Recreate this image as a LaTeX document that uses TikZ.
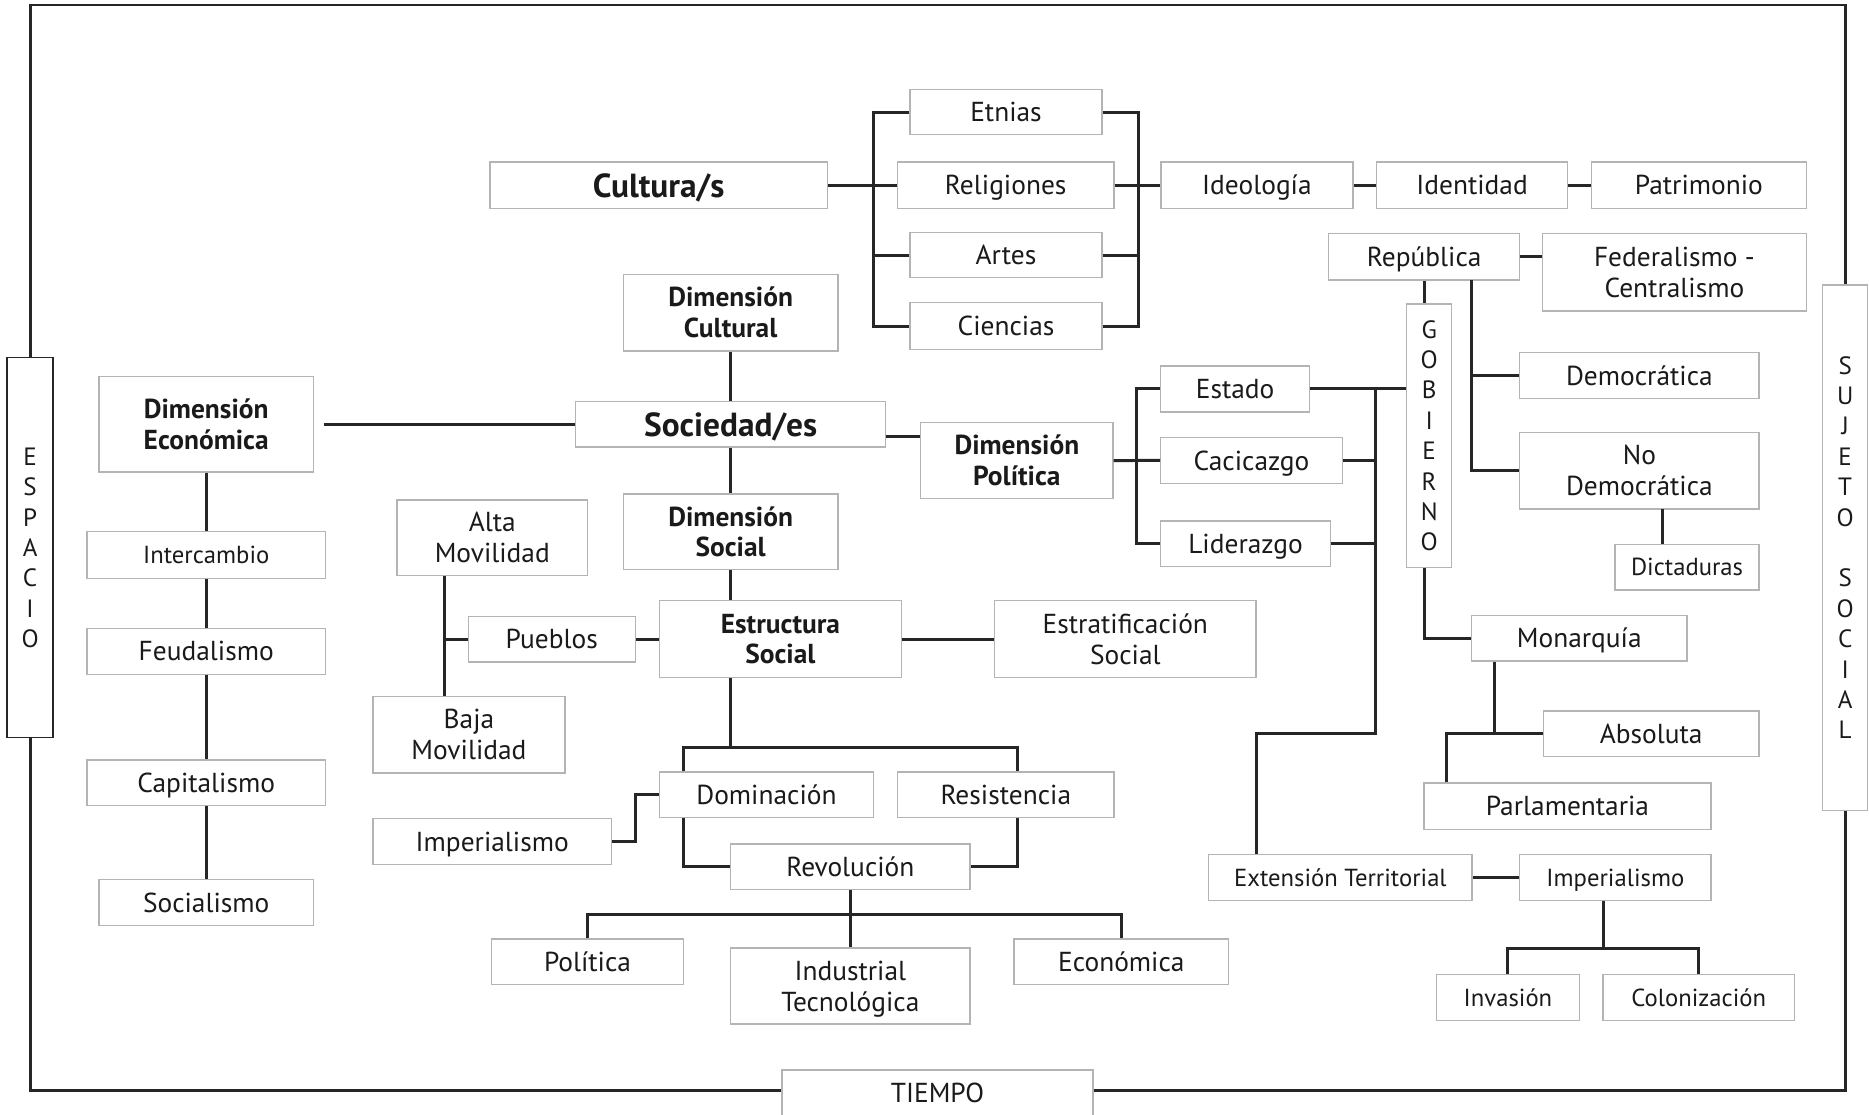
\documentclass[tikz,border=0pt]{standalone}
\usepackage{fontspec}
\setmainfont{PT Sans}
\definecolor{ln}{HTML}{262626}
\definecolor{bd}{HTML}{B4B4B4}
\definecolor{tx}{HTML}{1A1A1A}
\newcommand\ml[1]{\vbox{\halign{\hfil##\hfil\cr #1\crcr}}}
\tikzset{
 box/.style={draw=bd, line width=1.1pt, fill=white, inner sep=0pt, text=tx, font=\fontsize{23}{26}\selectfont, text height=16.1pt, text depth=0pt},
 two/.style={text height=42.1pt},
 small/.style={font=\fontsize{20.7}{25}\selectfont, text height=14.5pt},
 bld/.style={font=\fontsize{23}{25.5}\selectfont\bfseries, text height=41.6pt},
 big/.style={font=\fontsize{28}{30}\selectfont\bfseries, text height=19.6pt},
 vert/.style={font=\fontsize{21}{25.5}\selectfont},
 conn/.style={draw=ln, line width=2.5pt},
}
\newcommand\bx[7][]{\node[box,#1,minimum width={(#5)-(#3)},minimum height={(#6)-(#4)}] (#2) at ({((#3)+(#5))/2},{((#4)+(#6))/2}) {#7};}
\begin{document}
\begin{tikzpicture}[x=1pt,y=-1pt]
\fill[white] (0,0) rectangle (1568,935);
\useasboundingbox (0,0) rectangle (1568,935);
% nodes
\bx[big]{cult}{411}{136}{694}{175}{Cultura/s}
\bx{etn}{763.5}{75}{924.5}{113}{Etnias}
\bx{rel}{753}{136}{934.5}{175}{Religiones}
\bx{art}{763.5}{195}{924.5}{233}{Artes}
\bx{cie}{763.5}{254}{924.5}{293}{Ciencias}
\bx{ideo}{974}{136}{1135}{175}{Ideología}
\bx{iden}{1155}{136}{1315}{175}{Identidad}
\bx{patr}{1335}{136}{1515.5}{175}{Patrimonio}
\bx{rep}{1114.6}{196}{1275}{235}{República}
\bx[two]{fed}{1294}{196}{1515.5}{261}{\ml{Federalismo -\cr Centralismo}}
\bx[bld]{dimcul}{523}{230}{703}{294.5}{\ml{Dimensión\cr Cultural}}
\bx[bld]{dimeco}{83}{316}{263}{396}{\ml{Dimensión\cr Económica}}
\bx[big]{soc}{483}{337}{743}{375}{Sociedad/es}
\bx[bld]{dimpol}{772.5}{354.5}{933.7}{418.3}{\ml{Dimensión\cr Política}}
\bx{est}{973.8}{307}{1098.6}{345.6}{Estado}
\bx{cac}{973.8}{367}{1126}{405.5}{Cacicazgo}
\bx{lid}{973.8}{437}{1116}{475.2}{Liderazgo}
\bx[vert,text height=193.2pt]{gob}{1180}{255}{1218}{476}{\ml{G\cr O\cr B\cr I\cr E\cr R\cr N\cr O}}
\bx{dem}{1275}{296}{1475.7}{334.4}{Democrática}
\bx[two]{nodem}{1275}{363}{1475.7}{427}{\ml{No\cr Democrática}}
\bx[small]{dict}{1355}{456.7}{1475.7}{495}{Dictaduras}
\bx[vert,draw=ln,text height=167.7pt]{esp}{6}{300}{44.5}{619}{\ml{E\cr S\cr P\cr A\cr C\cr I\cr O}}
\bx[vert,text height=320.7pt]{suj}{1529}{239}{1567}{680}{\ml{S\cr U\cr J\cr E\cr T\cr O\cr \cr S\cr O\cr C\cr I\cr A\cr L}}
\bx[small]{inter}{73}{446}{273}{485.3}{Intercambio}
\bx{feud}{73}{527}{273}{565.6}{Feudalismo}
\bx{capi}{73}{637.6}{273}{676}{Capitalismo}
\bx{socia}{83}{738}{263}{776.7}{Socialismo}
\bx[bld]{dimsoc}{523}{414.5}{703}{478}{\ml{Dimensión\cr Social}}
\bx[two]{alta}{333}{419.5}{493}{483}{\ml{Alta\cr Movilidad}}
\bx{pueb}{392.8}{517}{533}{555.4}{Pueblos}
\bx[bld]{estr}{553}{504}{756.5}{568.4}{\ml{Estructura\cr Social}}
\bx[two]{estrat}{834.5}{504}{1053.7}{568.4}{\ml{Estratificación\cr Social}}
\bx[two]{baja}{312.8}{584.4}{474}{648.4}{\ml{Baja\cr Movilidad}}
\bx{dom}{553}{647.7}{733}{686}{Dominación}
\bx{res}{753}{647.7}{934.6}{686}{Resistencia}
\bx{impl}{313}{686.8}{513}{725.2}{Imperialismo}
\bx{rev}{613}{708}{813.8}{746.2}{Revolución}
\bx{pol}{412.4}{787.7}{573.4}{826.2}{Política}
\bx[two]{ind}{613}{795.3}{813.8}{859}{\ml{Industrial\cr Tecnológica}}
\bx{eco}{850.7}{787.7}{1030.7}{826.2}{Económica}
\bx{mon}{1234.4}{516.4}{1415.4}{554.6}{Monarquía}
\bx{abs}{1294.7}{596.5}{1475.7}{634.8}{Absoluta}
\bx{parl}{1194.6}{657}{1435.4}{696}{Parlamentaria}
\bx[small]{ext}{1014}{717}{1235}{755.4}{Extensión Territorial}
\bx[small]{impr}{1275}{717}{1435.4}{755.4}{Imperialismo}
\bx[small]{inv}{1205.2}{817.5}{1325}{856}{Invasión}
\bx[small]{colo}{1344.8}{817.5}{1505.5}{856}{Colonización}
\bx{tiem}{656}{897.7}{917}{936.5}{TIEMPO}
% helper coordinates
\coordinate (tl) at (25.25,4.2);
\coordinate (bl) at (25.25,914.8);
\coordinate (repb) at (1234.4,235);
\coordinate (dk) at (1394.8,427);
\coordinate (sp) at (743,366);
\coordinate (bus) at (1153.9,326.3);
\coordinate (busb) at (1153.9,615.4);
\coordinate (extk) at (1054.3,615.4);
\coordinate (ik) at (1345,796);
\coordinate (mv) at (373.3,536.2);
\coordinate (sk) at (613,626.7);
\coordinate (skl) at (573.4,626.7);
\coordinate (skr) at (854,626.7);
\coordinate (rk) at (713.4,766.8);
% connectors
\draw[conn] (cult.east) -- (rel.west);
\draw[conn] (etn.west) -- ++(-30,0) |- (cie.west);
\draw[conn] (art.west) -- ++(-30,0);
\draw[conn] (etn.east) -- ++(30.2,0) |- (cie.east);
\draw[conn] (art.east) -- ++(30.2,0);
\draw[conn] (rel.east) -- (ideo.west);
\draw[conn] (ideo.east) -- (iden.west);
\draw[conn] (iden.east) -- (patr.west);
\draw[conn] (rep.east) -- (rep.east -| fed.west);
\draw[conn] (rep.south) -- (rep.south |- gob.north);
\draw[conn] (rep.south |- gob.south) |- (mon.west);
\draw[conn] (repb) |- (nodem.west);
\draw[conn] (dem.west) -- (dem.west -| repb);
\draw[conn] (dk) -- (dk |- dict.north);
\draw[conn] (dimcul.south) -- (soc.north);
\draw[conn] (soc.south) -- (dimsoc.north);
\draw[conn] (dimsoc.south) -- (dimsoc.south |- estr.north);
\draw[conn] ([xshift=8pt]dimeco.east) -- (soc.west);
\draw[conn] (sp) -- (sp -| dimpol.west);
\draw[conn] (dimpol.east) -- (cac.west);
\draw[conn] (est.west) -- ++(-20.1,0) |- (lid.west);
\draw[conn] (est.east) -- (est.east -| gob.west);
\draw[conn] (cac.east) -- (cac.east -| bus);
\draw[conn] (lid.east) -- (lid.east -| bus);
\draw[conn] (bus) -- (busb) -- (extk) -- (extk |- ext.north);
\draw[conn] ([xshift=19.6pt]mon.south west) |- (abs.west);
\draw[conn] ([xshift=19.7pt]parl.north west) |- (abs.west);
\draw[conn] (ext.east) -- (impr.west);
\draw[conn] (ik |- impr.south) -- (ik);
\draw[conn] (inv.north) |- (ik) -| (colo.north);
\draw[conn] (mv |- alta.south) -- (mv |- baja.north);
\draw[conn] (mv) -- (pueb.west);
\draw[conn] (pueb.east) -- (estr.west);
\draw[conn] (estr.east) -- (estrat.west);
\draw[conn] (sk |- estr.south) -- (sk);
\draw[conn] (skl |- dom.north) -- (skl) -- (skr) -- (skr |- res.north);
\draw[conn] (skl |- dom.south) |- (rev.west);
\draw[conn] (skr |- res.south) |- (rev.east);
\draw[conn] (impl.east) -- ++(20,0) |- (dom.west);
\draw[conn] (rev.south) -- (ind.north);
\draw[conn] (pol.north) |- (rk) -| (eco.north);
\draw[conn] (dimeco.south) -- (inter.north);
\draw[conn] (inter.south) -- (feud.north);
\draw[conn] (feud.south) -- (capi.north);
\draw[conn] (capi.south) -- (socia.north);
% frame
\draw[conn] (esp.north) -- (tl) -- (tl -| suj.north) -- (suj.north);
\draw[conn] (esp.south) -- (bl) -- (bl -| tiem.west);
\draw[conn] (bl -| tiem.east) -- (bl -| suj.south) -- (suj.south);
\end{tikzpicture}
\end{document}
